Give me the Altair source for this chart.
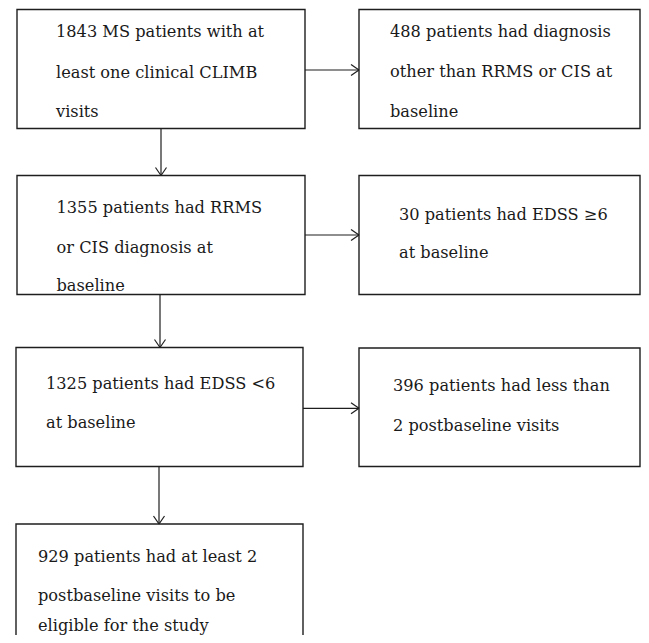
import altair as alt
import pandas as pd

# Box extents (page pixel coordinates); page content area is limited to 8..641 x 8..635
box_id = ["L1", "R1", "L2", "R2", "L3", "R3", "L4"]
box_x0 = [17, 359, 17, 359, 16, 359, 16]
box_x1 = [305, 640, 305, 640, 303, 640, 303]
box_y0 = [9.5, 9.5, 175.5, 175.5, 347.5, 348, 524]
box_y1 = [128.5, 128.5, 294.5, 294.5, 466.5, 466.5, 660]

# Text lines
line_text = [
    "1843 MS patients with at", "least one clinical CLIMB", "visits",
    "1355 patients had RRMS", "or CIS diagnosis at", "baseline",
    "1325 patients had EDSS <6", "at baseline",
    "929 patients had at least 2", "postbaseline visits to be", "eligible for the study",
    "488 patients had diagnosis", "other than RRMS or CIS at", "baseline",
    "30 patients had EDSS \u22656", "at baseline",
    "396 patients had less than", "2 postbaseline visits",
]
line_x = [56, 56, 56, 56.5, 56.5, 56.5, 46, 46, 38, 38, 38, 390, 390, 390, 399, 399, 393, 393]
line_y = [37, 77.5, 117, 213, 253, 291, 389, 428, 562, 600.5, 630.5, 37, 77, 117, 220, 258, 391, 431]

# Connectors: (from box, to box, direction, fixed coordinate)
conn_from = ["L1", "L2", "L3", "L1", "L2", "L3"]
conn_to = ["L2", "L3", "L4", "R1", "R2", "R3"]
conn_dir = ["v", "v", "v", "h", "h", "h"]
conn_pos = [161, 160, 159, 70, 235, 408.3]

HEAD_LEN = 8
HEAD_HALF = 5.5

bx = {b: (x0, x1, y0, y1) for b, x0, x1, y0, y1 in zip(box_id, box_x0, box_x1, box_y0, box_y1)}

segs = []
for f, t, d, p in zip(conn_from, conn_to, conn_dir, conn_pos):
    if d == "v":
        ys_, ye = bx[f][3], bx[t][2]
        segs.append((p, ys_, p, ye))
        segs.append((p - HEAD_HALF, ye - HEAD_LEN, p, ye))
        segs.append((p + HEAD_HALF, ye - HEAD_LEN, p, ye))
    else:
        xs_, xe = bx[f][1], bx[t][0]
        segs.append((xs_, p, xe, p))
        segs.append((xe - HEAD_LEN, p - HEAD_HALF, xe, p))
        segs.append((xe - HEAD_LEN, p + HEAD_HALF, xe, p))

boxes_df = pd.DataFrame({"id": box_id, "x0": box_x0, "x1": box_x1, "y0": box_y0, "y1": box_y1})
text_df = pd.DataFrame({"t": line_text, "x": line_x, "y": line_y})
seg_df = pd.DataFrame(segs, columns=["x", "y", "x2", "y2"])

W, H = 633, 627
xs = alt.Scale(domain=[8, 8 + W], nice=False, zero=False)
ys = alt.Scale(domain=[8 + H, 8], nice=False, zero=False)
noax = None

rects = alt.Chart(boxes_df).mark_rect(fill="white", stroke="#1e1e1e", strokeWidth=1.4).encode(
    x=alt.X("x0:Q", scale=xs, axis=noax),
    x2="x1:Q",
    y=alt.Y("y0:Q", scale=ys, axis=noax),
    y2="y1:Q",
)

rules = alt.Chart(seg_df).mark_rule(color="#1e1e1e", strokeWidth=1.2).encode(
    x=alt.X("x:Q", scale=xs, axis=noax),
    y=alt.Y("y:Q", scale=ys, axis=noax),
    x2="x2:Q",
    y2="y2:Q",
)

texts = alt.Chart(text_df).mark_text(
    align="left", baseline="alphabetic", font="DejaVu Serif",
    fontSize=16.2, color="#1a1a1a"
).encode(
    x=alt.X("x:Q", scale=xs, axis=noax),
    y=alt.Y("y:Q", scale=ys, axis=noax),
    text="t:N",
)

chart = alt.layer(rects, rules, texts).properties(
    width=W, height=H, padding=0, autosize=alt.AutoSizeParams(type="none")
).configure_view(stroke=None)

chart.save("out.html", embed_options={"renderer": "svg", "actions": False})
